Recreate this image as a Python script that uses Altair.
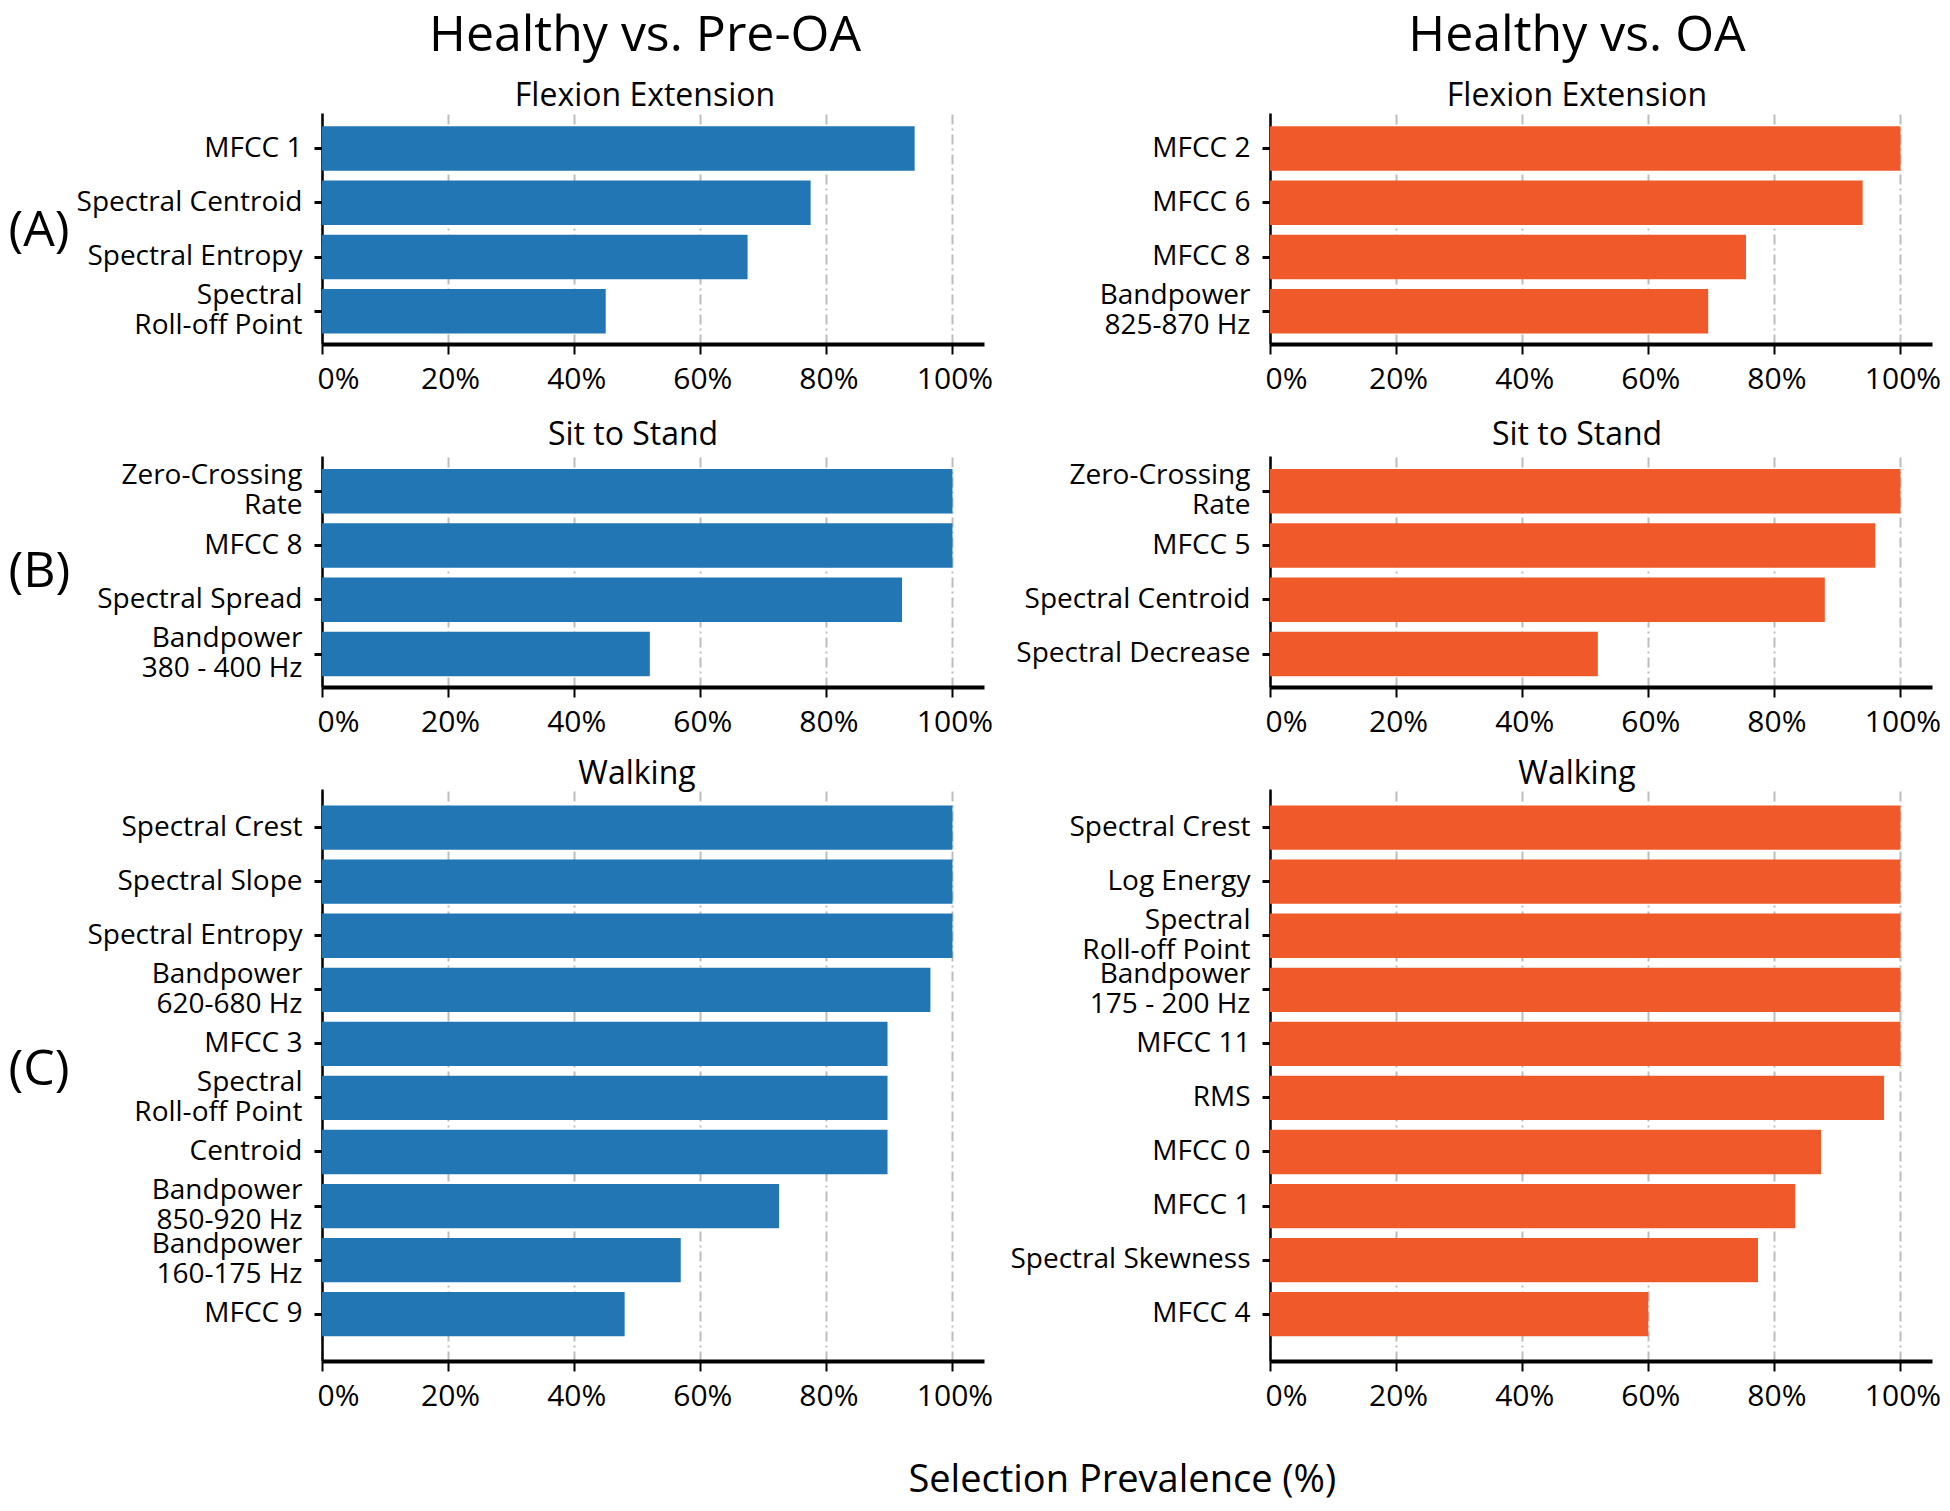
import altair as alt
import pandas as pd

FONT = "Open Sans"
BLUE = "#2176b3"
ORANGE = "#f05a2b"

# ---- data ----
pre_fe_labels = ["MFCC 1", "Spectral Centroid", "Spectral Entropy", "Spectral\nRoll-off Point"]
pre_fe_values = [94, 77.5, 67.5, 45]

oa_fe_labels = ["MFCC 2", "MFCC 6", "MFCC 8", "Bandpower\n825-870 Hz"]
oa_fe_values = [100, 94, 75.5, 69.5]

pre_sts_labels = ["Zero-Crossing\nRate", "MFCC 8", "Spectral Spread", "Bandpower\n380 - 400 Hz"]
pre_sts_values = [100, 100, 92, 52]

oa_sts_labels = ["Zero-Crossing\nRate", "MFCC 5", "Spectral Centroid", "Spectral Decrease"]
oa_sts_values = [100, 96, 88, 52]

pre_walk_labels = ["Spectral Crest", "Spectral Slope", "Spectral Entropy", "Bandpower\n620-680 Hz",
                   "MFCC 3", "Spectral\nRoll-off Point", "Centroid", "Bandpower\n850-920 Hz",
                   "Bandpower\n160-175 Hz", "MFCC 9"]
pre_walk_values = [100, 100, 100, 96.5, 89.7, 89.7, 89.7, 72.5, 56.9, 48]

oa_walk_labels = ["Spectral Crest", "Log Energy", "Spectral\nRoll-off Point", "Bandpower\n175 - 200 Hz",
                  "MFCC 11", "RMS", "MFCC 0", "MFCC 1", "Spectral Skewness", "MFCC 4"]
oa_walk_values = [100, 100, 100, 100, 100, 97.4, 87.4, 83.3, 77.4, 60]

x_ticks = [0, 20, 40, 60, 80, 100]

PW = 662
H_SMALL = 231
H_BIG = 572
LEFT_EXT = 314
RIGHT_EXT = 262

MULTI = "indexof(datum.value, '\\n') >= 0"


def panel(labels, values, color, title, height, row_label=None, label_dy=0,
          pad_outer=0.22, align=0.55):
    df = pd.DataFrame({"feature": labels, "value": values})
    common = dict(
        labelExpr="split(datum.label, '\\n')", labelLineHeight=30,
        labelOffset=alt.condition(MULTI, alt.value(-15), alt.value(0)),
        labelFont=FONT, labelFontSize=28, labelColor="black", labelPadding=12,
        labelLimit=400, tickSize=8, tickWidth=3, tickColor="black",
        domainColor="black", domainWidth=2.5, grid=False,
    )
    if row_label is not None:
        yaxis = alt.Axis(
            title=row_label, titleAngle=0, titleAlign="left", titleBaseline="middle",
            titleX=-LEFT_EXT, titleY=height / 2 + label_dy, titleFontSize=50, titleFont=FONT,
            titleFontWeight="normal", titleColor="black", **common)
    else:
        yaxis = alt.Axis(title=None, minExtent=RIGHT_EXT, maxExtent=RIGHT_EXT, **common)
    xaxis = alt.Axis(
        title=None, values=x_ticks, labelExpr="datum.value + '%'",
        labelFont=FONT, labelFontSize=30, labelColor="black", labelPadding=10,
        labelAlign=alt.condition("datum.value == 0", alt.value("left"), alt.value("center")),
        labelOffset=alt.condition("datum.value == 0", alt.value(-5), alt.value(2)),
        labelFlush=False, labelOverlap=False,
        tickSize=10, tickWidth=2, tickColor="black",
        domainColor="black", domainWidth=4,
        grid=True, gridColor="#bdbdbd", gridDash=[10, 4, 2, 4], gridWidth=2,
    )
    return alt.Chart(df).mark_bar(color=color).encode(
        x=alt.X("value:Q", scale=alt.Scale(domain=[0, 105], nice=False, zero=True), axis=xaxis),
        y=alt.Y("feature:N", sort=labels,
                scale=alt.Scale(paddingInner=0.18, paddingOuter=pad_outer, align=align),
                axis=yaxis),
    ).properties(width=PW, height=height, title=title)


def ttl(text, offset, dx, subtitle=None):
    kw = dict(text=text, fontSize=32, font=FONT, fontWeight="normal", color="black",
              anchor="middle", frame="group", offset=offset, dx=dx)
    if subtitle is not None:
        kw.update(dict(fontSize=50, subtitle=subtitle, subtitleFontSize=32,
                       subtitleFont=FONT, subtitleColor="black", subtitlePadding=20))
    return alt.TitleParams(**kw)


left = alt.vconcat(
    alt.vconcat(
        panel(pre_fe_labels, pre_fe_values, BLUE,
              ttl("Healthy vs. Pre-OA", 1, -8, "Flexion Extension"), H_SMALL, "(A)", 2, 0.22, 0.56),
        panel(pre_sts_labels, pre_sts_values, BLUE, ttl("Sit to Stand", 4, -20), H_SMALL, "(B)", 0,
              0.22, 0.55),
        spacing=25,
    ),
    panel(pre_walk_labels, pre_walk_values, BLUE, ttl("Walking", -2, -16), H_BIG, "(C)", -6, 0.38, 0.4),
    spacing=21,
)

right = alt.vconcat(
    alt.vconcat(
        panel(oa_fe_labels, oa_fe_values, ORANGE,
              ttl("Healthy vs. OA", 1, -24, "Flexion Extension"), H_SMALL, None, 0, 0.22, 0.56),
        panel(oa_sts_labels, oa_sts_values, ORANGE, ttl("Sit to Stand", 4, -24), H_SMALL, None, 0,
              0.22, 0.55),
        spacing=25,
    ),
    panel(oa_walk_labels, oa_walk_values, ORANGE, ttl("Walking", -2, -24), H_BIG, None, 0, 0.38, 0.4),
    spacing=21,
)

chart = alt.hconcat(left, right, spacing=15).properties(
    title=alt.TitleParams("Selection Prevalence (%)", orient="bottom", anchor="middle",
                          fontSize=38, font=FONT, fontWeight="normal", color="black",
                          offset=51, dx=148),
    padding={"left": 0, "top": 3, "right": 0, "bottom": 2},
).configure_view(stroke=None)

chart.save("out.html", embed_options={"renderer": "svg", "actions": False})
